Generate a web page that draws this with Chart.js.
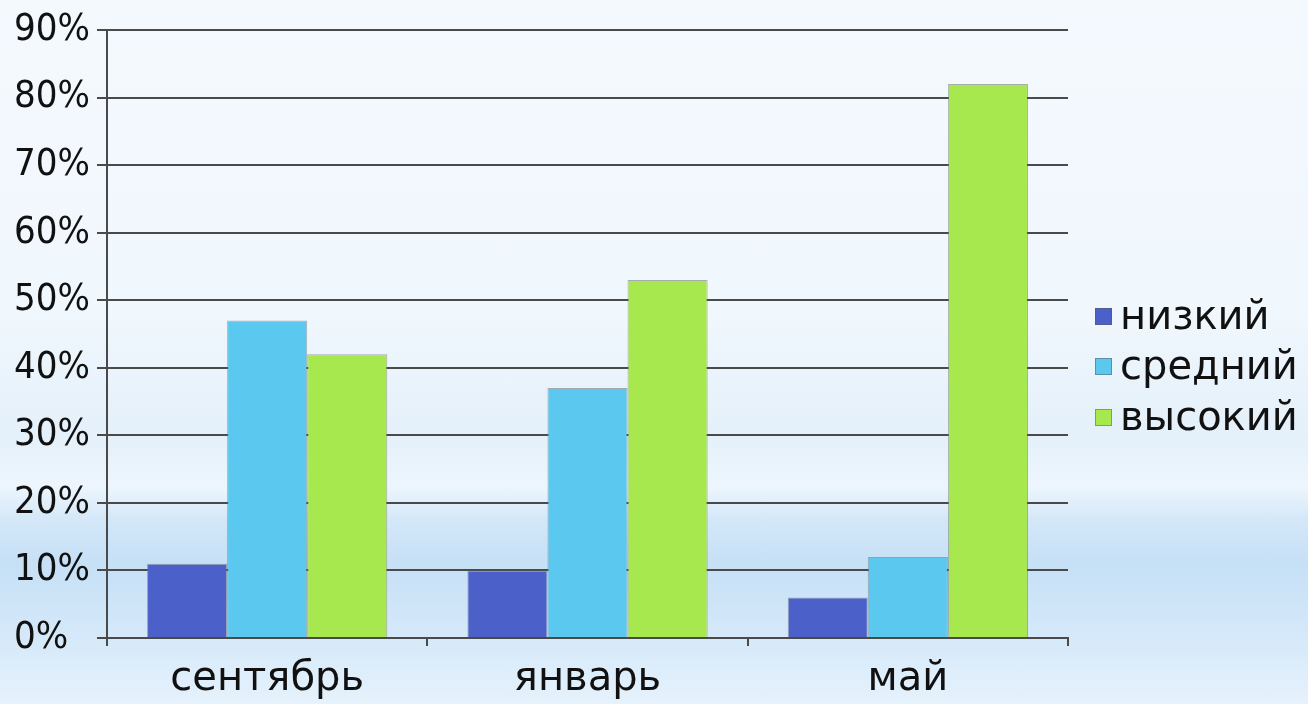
<!doctype html>
<html lang="ru">
<head>
  <meta charset="UTF-8">
  <title>Уровни</title>
  <script src="https://cdn.jsdelivr.net/npm/chart.js"></script>
  <style>
    html, body {
      margin: 0;
      padding: 0;
    }
    body {
      width: 1308px;
      height: 704px;
      overflow: hidden;
      background: linear-gradient(to bottom,
        #f4f9fe 0%, #f0f7fd 45%, #e4f0fa 62%, #edf6fd 69%,
        #d3e7f8 74%, #c6e0f6 80%, #d4e8f9 90%, #e6f2fc 100%);
    }
    #chart_01 {
      display: block;
    }
  </style>
</head>
<body>
  <canvas id="chart_01" width="1308" height="704"></canvas>
  <script type="application/javascript">
    const months = ['сентябрь', 'январь', 'май']
    const series_names = ['низкий', 'средний', 'высокий']
    const low = [11, 10, 6]
    const mid = [47, 37, 12]
    const high = [42, 53, 82]
    const y_min = 0
    const y_max = 90
    const y_step = 10

    const colors = ['#4b60c9', '#5bc8f0', '#a8e84f']
    const grid_color = '#4a4a4a'
    const label_font = '"DejaVu Sans", sans-serif'
    const tick_font = '"DejaVu Sans Condensed", "DejaVu Sans", sans-serif'

    // legend drawn on the right, next to the plot
    const side_legend = {
      id: 'side_legend',
      afterDraw(chart) {
        const {ctx, chartArea} = chart
        const x0 = chartArea.right + 27
        const rows = [317, 367, 418]
        ctx.save()
        ctx.font = `40px ${label_font}`
        ctx.textBaseline = 'middle'
        chart.data.datasets.forEach((ds, i) => {
          ctx.fillStyle = ds.backgroundColor
          ctx.fillRect(x0, rows[i] - 9, 17, 17)
          ctx.strokeStyle = 'rgba(90,90,90,0.5)'
          ctx.lineWidth = 1
          ctx.strokeRect(x0 + 0.5, rows[i] - 8.5, 16, 16)
          ctx.fillStyle = '#111'
          ctx.fillText(ds.label, x0 + 25, rows[i] + 2)
        })
        ctx.restore()
      }
    }

    const data_sets = [low, mid, high].map((vals, i) => ({
      label: series_names[i],
      data: vals,
      backgroundColor: colors[i],
      borderColor: 'rgba(110,110,110,0.55)',
      borderWidth: 1,
      categoryPercentage: 0.75,
      barPercentage: 1.0
    }))

    const config = {
      type: 'bar',
      data: {
        labels: months,
        datasets: data_sets
      },
      options: {
        responsive: false,
        animation: false,
        layout: {
          padding: {left: 14, right: 240, top: 30, bottom: 0}
        },
        plugins: {
          legend: {display: false},
          tooltip: {enabled: false}
        },
        scales: {
          x: {
            afterFit: scale => { scale.height = 66 },
            grid: {
              drawOnChartArea: false,
              drawTicks: true,
              tickLength: 8,
              color: grid_color,
              lineWidth: 2
            },
            border: {color: grid_color, width: 2},
            ticks: {
              color: '#111',
              padding: 10,
              font: {family: label_font, size: 40}
            }
          },
          y: {
            min: y_min,
            max: y_max,
            afterFit: scale => { scale.width = 93 },
            grid: {
              color: grid_color,
              lineWidth: 2,
              tickLength: 10
            },
            border: {color: grid_color, width: 2},
            ticks: {
              stepSize: y_step,
              crossAlign: 'far',
              color: '#111',
              font: {family: tick_font, size: 38},
              callback: v => v + '%'
            }
          }
        }
      },
      plugins: [side_legend]
    }

    const myChart = new Chart(
      document.getElementById('chart_01'),
      config
    )
  </script>
</body>
</html>
